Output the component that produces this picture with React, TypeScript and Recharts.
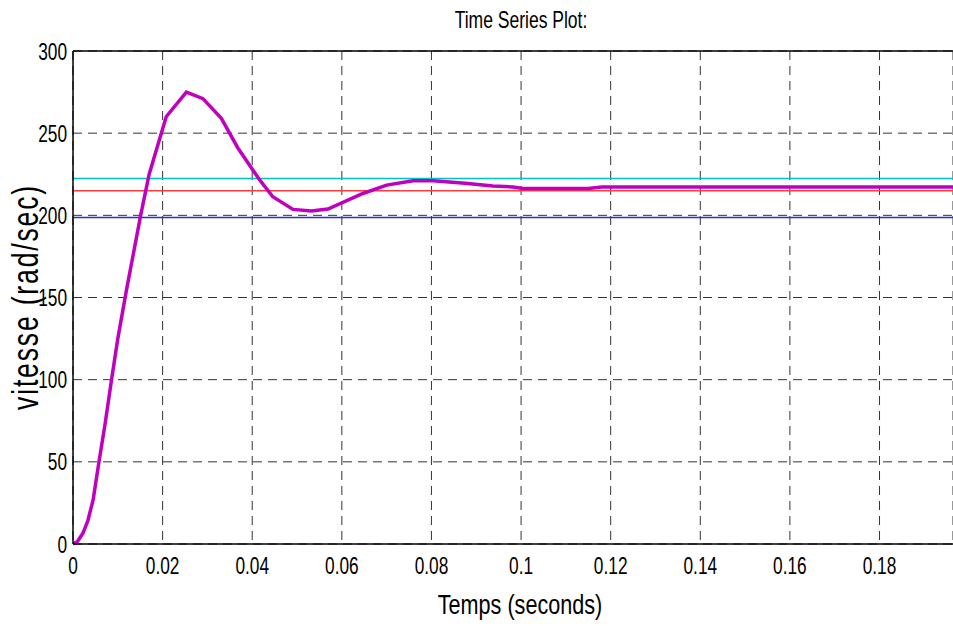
import { LineChart, Line, XAxis, YAxis, CartesianGrid, ReferenceLine } from 'recharts';

// motor speed response
const timeSec = [
    0, 0.001, 0.0022, 0.0033, 0.0045, 0.0058, 0.0071, 0.0086, 0.01, 0.0119, 0.0135, 0.0151, 0.017,
    0.0208, 0.0253, 0.029, 0.0331, 0.0368, 0.0417, 0.0446, 0.0491, 0.0532, 0.0569, 0.0647, 0.07,
    0.0759, 0.0804, 0.0875, 0.0937, 0.0982, 0.1004, 0.115, 0.118, 0.1964,
];
const speed = [
    0, 1.5, 6.5, 14, 27, 50, 72, 100, 125, 154, 177, 200, 225,
    260, 275, 271, 259, 241, 221.4, 211.3, 203.6, 202.6, 203.8, 213.3, 218.4,
    221, 221, 219.5, 217.8, 217.3, 216.3, 216.3, 217.3, 217.3,
];

// constant reference levels
const levelCyan = 222.4;
const levelRed = 215;
const levelBlue = 198.7;

const xMax = 0.1964;
const xTicks = [0, 0.02, 0.04, 0.06, 0.08, 0.1, 0.12, 0.14, 0.16, 0.18];
const yTicks = [0, 50, 100, 150, 200, 250, 300];

const data = timeSec.map((t, i) => ({ t, v: speed[i] }));
const flat = (level: number) => [
    { t: 0, v: level },
    { t: xMax, v: level },
];

const FONT = "'Liberation Sans', Arial, sans-serif";

const XTick = ({ x, payload }: any) => (
    <g transform={`translate(${x},574)`}>
        <text transform="scale(0.72,1)" textAnchor="middle" fontFamily={FONT} fontSize={24} fill="#000">
            {String(payload.value)}
        </text>
    </g>
);

const YTick = ({ y, payload }: any) => (
    <g transform={`translate(67,${y})`}>
        <text transform="scale(0.72,1)" textAnchor="end" dy="0.36em" fontFamily={FONT} fontSize={24} fill="#000">
            {String(payload.value)}
        </text>
    </g>
);

export default function App() {
    return (
        <div style={{ position: 'absolute', left: 0, top: 0, width: 953, height: 626, background: '#fff' }}>
            <LineChart width={953} height={626} data={data} margin={{ top: 51, right: 0, bottom: 0, left: 0 }}>
                <CartesianGrid stroke="#333" strokeDasharray="9 6" />
                <XAxis
                    dataKey="t"
                    type="number"
                    domain={[0, xMax]}
                    ticks={xTicks}
                    allowDataOverflow
                    height={82}
                    tickLine={false}
                    axisLine={{ stroke: '#000', strokeWidth: 1.5 }}
                    tick={<XTick />}
                />
                <YAxis
                    type="number"
                    domain={[0, 300]}
                    ticks={yTicks}
                    width={73}
                    tickLine={false}
                    axisLine={{ stroke: '#000', strokeWidth: 1.5 }}
                    tick={<YTick />}
                />
                <ReferenceLine y={300} stroke="#000" strokeWidth={1.5} />
                <Line data={flat(levelCyan)} dataKey="v" stroke="#00c4c4" strokeWidth={1.5} dot={false} isAnimationActive={false} />
                <Line data={flat(levelRed)} dataKey="v" stroke="#ff3c3c" strokeWidth={1.5} dot={false} isAnimationActive={false} />
                <Line data={flat(levelBlue)} dataKey="v" stroke="#2a2ae0" strokeWidth={1.5} dot={false} isAnimationActive={false} />
                <Line dataKey="v" stroke="#bf00bf" strokeWidth={3.5} dot={false} isAnimationActive={false} />
            </LineChart>
            <svg width={953} height={626} style={{ position: 'absolute', left: 0, top: 0, pointerEvents: 'none' }}>
                <g transform="translate(521,28)">
                    <text transform="scale(0.73,1)" textAnchor="middle" fontFamily={FONT} fontSize={24} fill="#000">
                        Time Series Plot:
                    </text>
                </g>
                <g transform="translate(520,614)">
                    <text transform="scale(0.8,1)" textAnchor="middle" fontFamily={FONT} fontSize={27} fill="#000">
                        Temps (seconds)
                    </text>
                </g>
                <g transform="translate(38,297) rotate(-90)">
                    <text transform="scale(0.72,1)" textAnchor="middle" fontFamily={FONT} fontSize={37} letterSpacing={2.5} fill="#000">
                        vitesse (rad/sec)
                    </text>
                </g>
            </svg>
        </div>
    );
}
